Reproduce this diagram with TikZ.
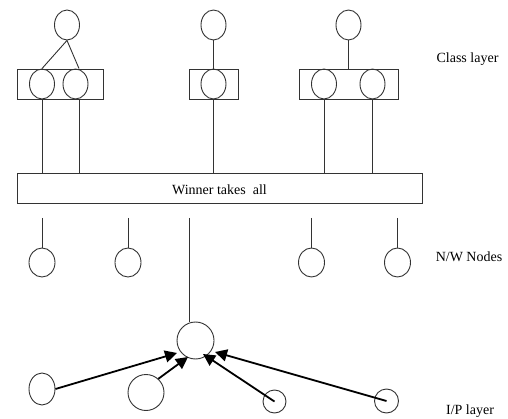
\documentclass[tikz,border=0pt]{standalone}
\usepackage{fontspec}
\setmainfont{Liberation Serif}
\usetikzlibrary{shapes.geometric,arrows.meta}
\begin{document}
\begin{tikzpicture}[x=1pt,y=-1pt,
  ln/.style={draw=black!80,line width=0.9pt},
  ell/.style={ln,ellipse,inner sep=0pt,minimum width=25pt,minimum height=30pt},
  nwell/.style={ln,ellipse,inner sep=0pt,minimum width=26pt,minimum height=29pt},
  grp/.style={ln,rectangle,inner sep=0pt},
  lbl/.style={font=\fontsize{14}{16}\selectfont,inner sep=0pt,anchor=base},
  arr/.style={draw=black,line width=1.8pt,-{Triangle[length=12pt,width=12pt]}}]
\useasboundingbox (0,0) rectangle (508,419);
% class layer
\node[ell] (c1) at (67,25) {};
\node[ell] (c2) at (213.5,25) {};
\node[ell] (c3) at (348.5,25) {};
\node[grp,minimum width=86pt,minimum height=30pt] (g1) at (60,84) {};
\node[grp,minimum width=49pt,minimum height=30pt] (g2) at (213.5,84) {};
\node[grp,minimum width=99pt,minimum height=30pt] (g3) at (348.5,84) {};
\node[ell] (h1) at (42,84) {};
\node[ell] (h2) at (75.5,84) {};
\node[ell] (h3) at (213.5,84) {};
\node[ell] (h4) at (324,84) {};
\node[ell] (h5) at (372.5,84) {};
\draw[ln] (c1.south) -- (h1.north);
\draw[ln] (c1.south) -- ([xshift=3.5pt]h2.north);
\draw[ln] (c2.south) -- (h3.north);
\draw[ln] (c3.south) -- (g3.north);
% winner takes all
\node[ln,rectangle,minimum width=405pt,minimum height=30pt,inner sep=0pt] (bar) at (219.5,188) {};
\node[lbl] (wta) at (219.5,195) {Winner takes\ \ all};
\draw[ln] ([xshift=0.7pt]h1.south) -- ([xshift=0.7pt]h1.south |- bar.north);
\draw[ln] ([xshift=3.5pt]h2.south) -- ([xshift=3.5pt]h2.south |- bar.north);
\draw[ln] (h3.south) -- (h3.south |- bar.north);
\draw[ln] (h4.south) -- (h4.south |- bar.north);
\draw[ln] (h5.south) -- (h5.south |- bar.north);
% N/W nodes
\node[nwell] (n1) at (42,262.5) {};
\node[nwell] (n2) at (128,262.5) {};
\node[nwell] (n3) at (311.5,262.5) {};
\node[nwell] (n4) at (397.5,262.5) {};
\coordinate (t1) at (42,218);
\coordinate (t2) at (128,218);
\coordinate (t3) at (311.5,218);
\coordinate (t4) at (397.5,218);
\coordinate (t5) at (189,218);
\draw[ln] (t1) -- (n1.north);
\draw[ln] (t2) -- (n2.north);
\draw[ln] (t3) -- (n3.north);
\draw[ln] (t4) -- (n4.north);
% output node and inputs
\node[ln,circle,inner sep=0pt,minimum size=37pt] (o) at (195.5,340.5) {};
\draw[ln] (t5) -- (t5 |- o.north);
\node[ln,ellipse,inner sep=0pt,minimum width=26pt,minimum height=32pt] (i1) at (42,389) {};
\node[ln,circle,inner sep=0pt,minimum size=36pt] (i2) at (146,392.5) {};
\node[ln,circle,inner sep=0pt,minimum size=23pt] (i3) at (274.5,401.5) {};
\node[ln,circle,inner sep=0pt,minimum size=24pt] (i4) at (386.5,401) {};
\coordinate (p1) at (177,353);
\coordinate (p2) at (188,357);
\coordinate (p3) at (203,354);
\coordinate (p4) at (215,352);
\draw[arr] (i1.east) -- (p1);
\draw[arr] (i2.48) -- (p2);
\draw[arr] (i3.center) -- (p3);
\draw[arr] (i4.center) -- (p4);
% labels
\node[lbl] (lc) at (467.5,62.3) {Class layer};
\node[lbl] (ln) at (469,262) {N/W Nodes};
\node[lbl] (li) at (470,414.5) {I/P layer};
\end{tikzpicture}
\end{document}
